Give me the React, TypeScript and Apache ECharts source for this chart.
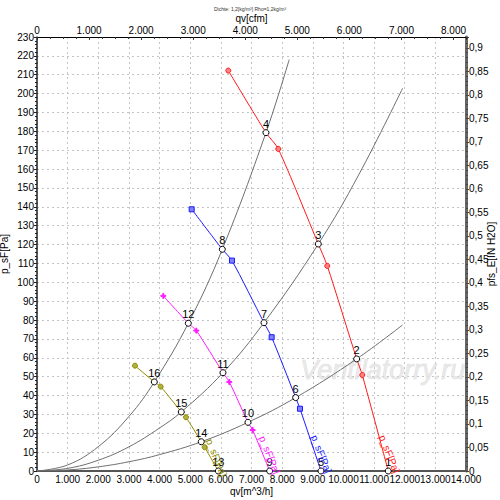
import React, { useEffect, useRef } from "react";
import * as echarts from "echarts";

// ---- data ----
const titleText = "Dichte: 1,2[kg/m³] Rho=1,2kg/m³";
const kinds = ["m", "o", "m", "o", "m", "o", "m", "o"];

const redQ = [6243, 7472, 7874, 9180, 9473, 10432, 10615, 11463];
const redP = [212.2, 179.3, 170.7, 120.3, 108.7, 59.4, 50.9, 0];
const redOps = ["4", "3", "2", "1"];

const blueQ = [5048, 6047, 6363, 7407, 7658, 8441, 8582, 9267];
const blueP = [138.7, 117.5, 111.5, 78.6, 70.9, 38.9, 33, 0];
const blueOps = ["8", "7", "6", "5"];

const magQ = [4122, 4938, 5199, 6069, 6275, 6885, 7038, 7593];
const magP = [92.8, 78.3, 74.4, 52.1, 47.2, 25.8, 21.7, 0];
const magOps = ["12", "11", "10", "9"];

const oliveQ = [3198, 3828, 4036, 4709, 4862, 5361, 5472, 5917];
const oliveP = [55.8, 47.2, 44.7, 31.3, 28.5, 15.5, 12.6, 0];
const oliveOps = ["16", "15", "14", "13"];

// system curves
const sysAQ = [0, 1000, 2000, 3000, 3828, 4938, 6047, 7472, 8230];
const sysAP = [0, 3.2, 12.9, 28.9, 47.2, 78.3, 117.5, 179.3, 218];
const sysBQ = [0, 1000, 2000, 3000, 4000, 4709, 6069, 7407, 9180, 10500, 11930];
const sysBP = [0, 1.4, 5.7, 12.8, 22.8, 31.3, 52.1, 78.6, 120.3, 157, 202.8];
const sysCQ = [0, 1000, 2000, 3000, 4000, 5361, 6885, 8441, 10432, 11930];
const sysCP = [0, 0.55, 2.2, 4.9, 8.7, 15.5, 25.8, 38.9, 59.4, 77.4];

// curve label anchor points (q, p)
const curveLabelText = "p_sF[Pa]";
const curveLabelQ = [11500, 9280, 7590, 5860];
const curveLabelP = [9, 9, 8.5, 7];

const qMax = 14000;
const pMax = 230;
const cfmPerM3h = 0.588578;
const inH2OperPa = 1 / 249.089;

const FONT = "Liberation Sans, Arial, sans-serif";

const fmtThousands = (v: number) =>
  v === 0 ? "0" : `${Math.round(v / 1000)}.000`;

function fanSeries(
  name: string,
  color: string,
  qs: number[],
  ps: number[],
  ops: string[],
  markerSymbol: string,
  markerFill: string
) {
  let opIdx = 0;
  const data = qs.map((q, i) => {
    if (kinds[i] === "o") {
      const lbl = ops[opIdx++];
      return {
        value: [q, ps[i]],
        symbol: "circle",
        symbolSize: 6,
        itemStyle: { color: "#ffffff", borderColor: "#000000", borderWidth: 1 },
        label: {
          show: true,
          position: "top",
          distance: 0,
          formatter: lbl,
          color: "#000",
          fontSize: 11,
          fontFamily: FONT,
        },
      };
    }
    return {
      value: [q, ps[i]],
      symbol: markerSymbol,
      symbolSize: 5,
      itemStyle: { color: markerFill, borderColor: color, borderWidth: 1 },
    };
  });
  return {
    name,
    type: "line",
    smooth: 0.25,
    data,
    lineStyle: { color, width: 1 },
    itemStyle: { color },
    z: 5,
    silent: true,
  };
}

function sysSeries(qs: number[], ps: number[]) {
  return {
    type: "line",
    smooth: 0.4,
    showSymbol: false,
    symbol: "none",
    data: qs.map((q, i) => [q, ps[i]]),
    lineStyle: { color: "#6e6e6e", width: 1 },
    z: 3,
    silent: true,
  };
}

const curveColors = ["#ff1a1a", "#1a1aff", "#ff1aff", "#8c8c00"];

export default function App() {
  const ref = useRef<HTMLDivElement>(null);
  useEffect(() => {
    if (!ref.current) return;
    const chart = echarts.init(ref.current, null, { renderer: "svg" });
    chart.setOption({
      animation: false,
      backgroundColor: "#ffffff",
      title: {
        text: titleText,
        left: "center",
        top: 1,
        textStyle: { fontSize: 5, fontWeight: "normal", color: "#333", fontFamily: FONT },
      },
      grid: {
        left: 37,
        right: 34,
        top: 37,
        bottom: 29,
        containLabel: false,
        outerBoundsMode: "none",
      },
      xAxis: [
        {
          type: "value",
          position: "bottom",
          min: 0,
          max: qMax,
          interval: 1000,
          name: "qv[m^3/h]",
          nameLocation: "middle",
          nameGap: 15,
          nameMoveOverlap: false,
          nameTextStyle: { color: "#000", fontSize: 10, fontFamily: FONT },
          axisLine: { show: true, onZero: false, lineStyle: { color: "#555", width: 2 } },
          axisTick: { show: false },
          axisLabel: { color: "#000", fontSize: 10, margin: 3, fontFamily: FONT, formatter: fmtThousands },
          splitLine: { show: true, lineStyle: { color: "#c4c4c4", type: [2, 3], width: 1 } },
        },
        {
          type: "value",
          position: "top",
          min: 0,
          max: qMax * cfmPerM3h,
          interval: 1000,
          name: "qv[cfm]",
          nameLocation: "middle",
          nameGap: 14,
          nameMoveOverlap: false,
          nameTextStyle: { color: "#000", fontSize: 10, fontFamily: FONT },
          axisLine: { show: true, onZero: false, lineStyle: { color: "#000", width: 1 } },
          axisTick: { show: true, inside: true, length: 3, lineStyle: { color: "#333" } },
          minorTick: { show: true, splitNumber: 4, length: 2, lineStyle: { color: "#333" } },
          axisLabel: {
            color: "#000",
            fontSize: 10,
            margin: 2,
            fontFamily: FONT,
            showMaxLabel: false,
            formatter: fmtThousands,
          },
          splitLine: { show: false },
        },
      ],
      yAxis: [
        {
          type: "value",
          position: "left",
          min: 0,
          max: pMax,
          interval: 10,
          name: "p_sF[Pa]",
          nameLocation: "middle",
          nameGap: 28,
          nameMoveOverlap: false,
          nameRotate: 90,
          nameTextStyle: { color: "#000", fontSize: 10, fontFamily: FONT },
          axisLine: { show: true, onZero: false, lineStyle: { color: "#222", width: 1.5 } },
          axisTick: { show: true, length: 3, lineStyle: { color: "#222" } },
          minorTick: { show: true, splitNumber: 5, length: 2, lineStyle: { color: "#222" } },
          axisLabel: { color: "#000", fontSize: 10, margin: 3, fontFamily: FONT },
          splitLine: { show: true, lineStyle: { color: "#c4c4c4", type: [2, 3], width: 1 } },
        },
        {
          type: "value",
          position: "right",
          min: 0,
          max: pMax * inH2OperPa,
          interval: 0.05,
          name: "pfs_E[IN H2O]",
          nameLocation: "middle",
          nameGap: 20,
          nameMoveOverlap: false,
          nameRotate: 90,
          nameTextStyle: { color: "#000", fontSize: 10, fontFamily: FONT },
          axisLine: { show: true, onZero: false, lineStyle: { color: "#666", width: 3 } },
          axisTick: { show: true, length: 3, lineStyle: { color: "#444" } },
          minorTick: { show: true, splitNumber: 5, length: 2, lineStyle: { color: "#444" } },
          axisLabel: {
            color: "#000",
            fontSize: 10,
            margin: 3,
            fontFamily: FONT,
            showMaxLabel: false,
            formatter: (v: number) => String(Number(v.toFixed(2))).replace(".", ","),
          },
          splitLine: { show: false },
        },
      ],
      series: [
        sysSeries(sysAQ, sysAP),
        sysSeries(sysBQ, sysBP),
        sysSeries(sysCQ, sysCP),
        fanSeries("1", curveColors[0], redQ, redP, redOps, "circle", "#ff8080"),
        fanSeries("2", curveColors[1], blueQ, blueP, blueOps, "rect", "#8080ff"),
        fanSeries(
          "3",
          curveColors[2],
          magQ,
          magP,
          magOps,
          "path://M4,0H6V4H10V6H6V10H4V6H0V4H4Z",
          curveColors[2]
        ),
        fanSeries("4", curveColors[3], oliveQ, oliveP, oliveOps, "circle", "#b0b040"),
      ],
    });

    // curve name labels and watermark, placed through the chart's own scales
    const labels = curveLabelQ.map((q, i) => {
      const pt = chart.convertToPixel({ xAxisIndex: 0, yAxisIndex: 0 }, [q, curveLabelP[i]]) as number[];
      return {
        type: "text",
        x: pt[0],
        y: pt[1],
        rotation: (-68 * Math.PI) / 180,
        z: 20,
        silent: true,
        style: {
          text: curveLabelText,
          fill: curveColors[i],
          fontSize: 10,
          fontFamily: FONT,
          align: "center",
          verticalAlign: "middle",
        },
      };
    });
    chart.setOption({
      graphic: [
        {
          type: "text",
          left: 300,
          top: 356,
          z: 1,
          silent: true,
          style: {
            text: "Ventilatorry.ru",
            fill: "rgba(228,228,228,0.75)",
            stroke: "rgba(195,195,195,0.6)",
            lineWidth: 0.6,
            fontSize: 27,
            fontStyle: "italic",
            fontFamily: FONT,
          },
        },
        ...labels,
      ],
    });
    return () => chart.dispose();
  }, []);
  return (
    <div
      ref={ref}
      style={{ position: "absolute", left: 0, top: 0, width: 500, height: 500, background: "#fff" }}
    />
  );
}
